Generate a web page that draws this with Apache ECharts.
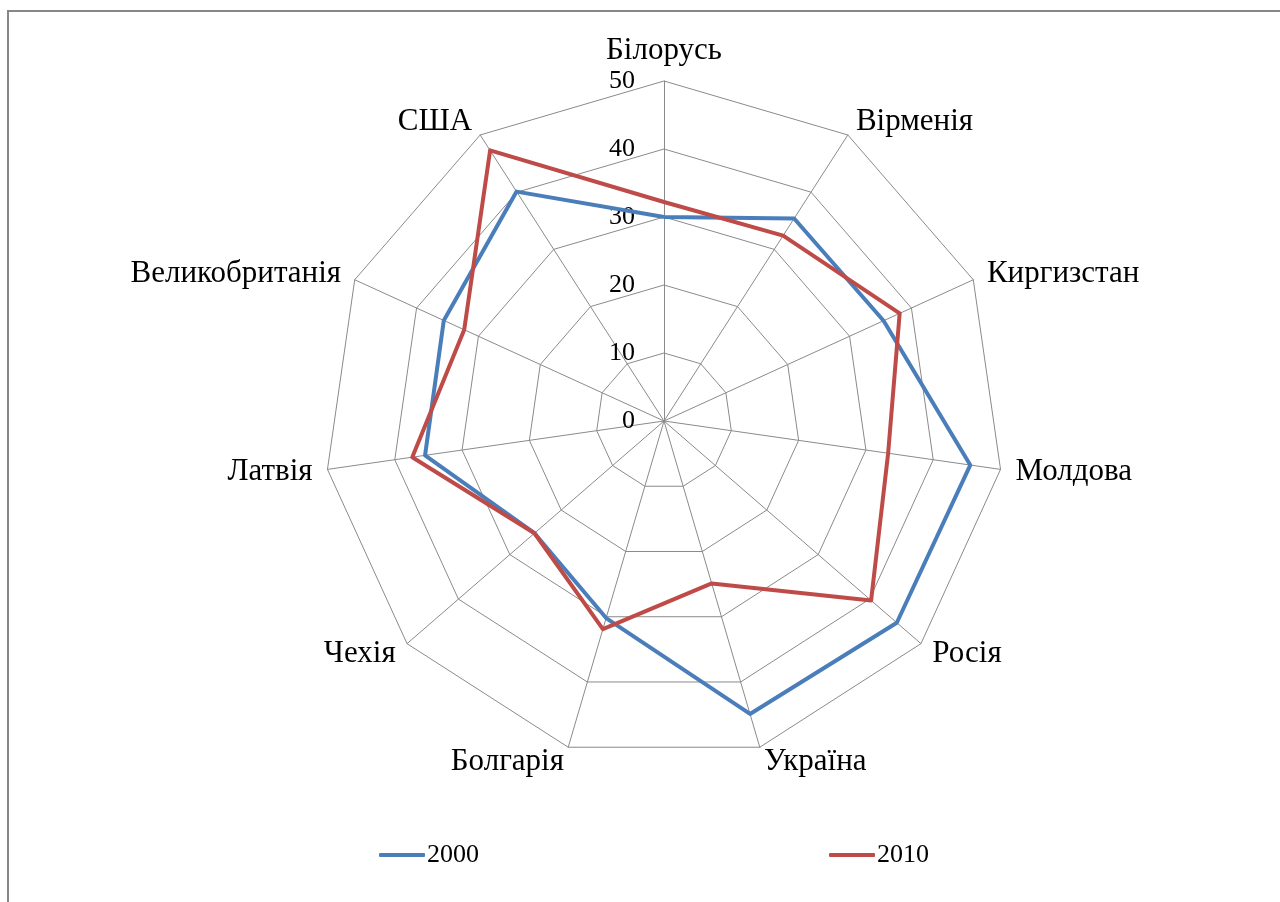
<!DOCTYPE html>
<html>
<head>
<meta charset="utf-8">
<script src="https://cdn.jsdelivr.net/npm/echarts@6/dist/echarts.min.js"></script>
<style>
html,body{margin:0;padding:0;background:#fff;}
#chart{position:absolute;left:0;top:0;width:1280px;height:902px;}
#frame{position:absolute;left:7px;top:10px;width:1273px;height:892px;border-top:2px solid #878787;border-left:2px solid #878787;pointer-events:none;box-sizing:border-box;}
</style>
</head>
<body>
<div id="chart"></div>
<div id="frame"></div>
<script>
// Categories listed clockwise from the top
const categories = ['Білорусь','Вірменія','Киргизстан','Молдова','Росія','Україна','Болгарія','Чехія','Латвія','Великобританія','США'];
const seriesNames = ['2000','2010'];
const values2000 = [30, 35.4, 35.5, 45.5, 45.3, 44.9, 30.2, 25.2, 35.5, 35.6, 40.1];
const values2010 = [32.2, 32.4, 38.1, 33.3, 40.3, 24.9, 31.9, 25.2, 37.4, 32.3, 47.3];
const axisMin = 0, axisMax = 50, axisSplits = 5;

// ECharts radar runs counter-clockwise; reorder so the chart reads clockwise
const order = [0].concat(categories.map((_, i) => i).slice(1).reverse());
const pick = arr => order.map(i => arr[i]);

const FONT = '"Liberation Serif", "Times New Roman", serif';
const chart = echarts.init(document.getElementById('chart'));
const indicator = pick(categories).map((c, i) => {
  const o = { name: c, min: axisMin, max: axisMax };
  if (i === 0) o.axisLabel = { show: true };
  return o;
});
chart.setOption({
  animation: false,
  color: ['#4A7EBB', '#BE4B48'],
  legend: {
    data: seriesNames,
    left: 374,
    top: 837,
    itemGap: 350,
    itemWidth: 46,
    itemHeight: 4,
    icon: 'roundRect',
    textStyle: { fontFamily: FONT, fontSize: 26, color: '#000', padding: [0,0,0,-3] }
  },
  radar: {
    center: [664, 421],
    radius: 340,
    startAngle: 90,
    splitNumber: axisSplits,
    shape: 'polygon',
    indicator: indicator,
    axisName: { color: '#000', fontFamily: FONT, fontSize: 31 },
    nameGap: 15,
    axisLine: { lineStyle: { color: '#8a8a8a', width: 1 } },
    splitLine: { lineStyle: { color: '#8a8a8a', width: 1 } },
    splitArea: { show: false },
    axisTick: { show: false },
    axisLabel: { show: false, color: '#000', fontFamily: FONT, fontSize: 26, margin: 29 }
  },
  series: [{
    type: 'radar',
    symbol: 'none',
    data: [
      { name: seriesNames[0], value: pick(values2000), lineStyle: { width: 4, color: '#4A7EBB' }, itemStyle: { color: '#4A7EBB' } },
      { name: seriesNames[1], value: pick(values2010), lineStyle: { width: 4, color: '#BE4B48' }, itemStyle: { color: '#BE4B48' } }
    ]
  }]
});
</script>
</body>
</html>
